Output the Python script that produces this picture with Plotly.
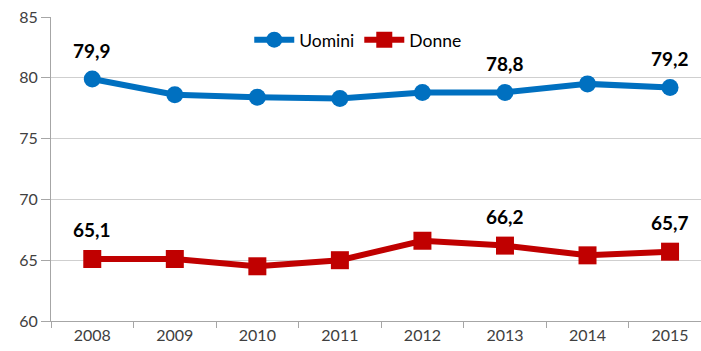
import plotly.graph_objects as go

years = ["2008", "2009", "2010", "2011", "2012", "2013", "2014", "2015"]
uomini = [79.9, 78.6, 78.4, 78.3, 78.8, 78.8, 79.5, 79.2]
donne = [65.1, 65.1, 64.5, 65.0, 66.6, 66.2, 65.4, 65.7]
labelled_years = ["2008", "2013", "2015"]

BLUE = "#0070C0"
RED = "#C00000"
FONT = "Lato, 'Open Sans', sans-serif"

fig = go.Figure()
fig.add_trace(go.Scatter(
    x=years, y=uomini, name="Uomini", mode="lines+markers",
    line=dict(color=BLUE, width=6),
    marker=dict(symbol="circle", size=17, color=BLUE),
))
fig.add_trace(go.Scatter(
    x=years, y=donne, name="Donne", mode="lines+markers",
    line=dict(color=RED, width=6),
    marker=dict(symbol="square", size=18, color=RED),
))

# value labels above selected points (x given as category index)
annotations = []
for series in (uomini, donne):
    for i, (yr, v) in enumerate(zip(years, series)):
        if yr in labelled_years:
            annotations.append(dict(
                x=i, y=v, xref="x", yref="y",
                text="<b>" + f"{v:.1f}".replace(".", ",") + "</b>",
                showarrow=False, yshift=29,
                font=dict(family=FONT, size=19, color="#000000"),
            ))

fig.update_layout(
    width=701, height=351,
    margin=dict(l=51, r=0, t=17, b=30),
    paper_bgcolor="white", plot_bgcolor="white",
    font=dict(family=FONT, size=14, color="#404040"),
    showlegend=True,
    annotations=annotations,
    legend=dict(
        orientation="h", x=0.305, xanchor="left", y=0.925, yanchor="middle",
        font=dict(family=FONT, size=17.5, color="#000000"),
        bgcolor="rgba(0,0,0,0)", itemwidth=40, tracegroupgap=0,
    ),
)
fig.update_xaxes(
    type="category", range=[-0.5, 7.375],
    showgrid=False, showline=True, linecolor="#A6A6A6", linewidth=1,
    ticks="outside", tickson="boundaries", ticklen=6, tickcolor="#A6A6A6",
    tickfont=dict(size=16, color="#404040"),
)
fig.update_yaxes(
    range=[60, 85], tickvals=[60, 65, 70, 75, 80, 85],
    showgrid=True, gridcolor="#CFCFCF", gridwidth=1,
    showline=True, linecolor="#A6A6A6", linewidth=1,
    ticks="outside", ticklen=9, tickcolor="#A6A6A6",
    zeroline=False, tickfont=dict(size=16, color="#404040"),
)

fig.write_html("out.html")
